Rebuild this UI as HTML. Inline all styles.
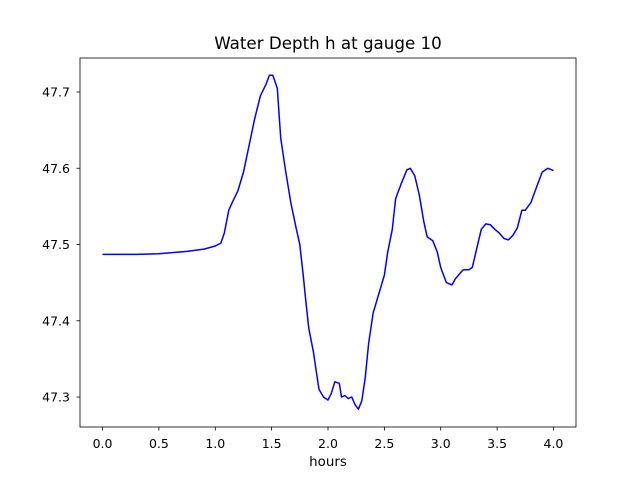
<!DOCTYPE html>
<html><head><meta charset="utf-8"><style>body{margin:0;background:#fff}svg{display:block;font-family:"DejaVu Sans","Liberation Sans",sans-serif}</style></head>
<body>
<svg id="chart" width="640" height="480">
<rect width="640" height="480" fill="#fff"/>
<text x="328" y="49" font-size="16.7" text-anchor="middle">Water Depth h at gauge 10</text>
<g id="marks"></g>
<g id="axes"></g>
<rect x="80" y="58" width="496" height="369" fill="none" stroke="#000" stroke-width="0.8"/>
<text x="328" y="466" font-size="13.4" text-anchor="middle">hours</text>
</svg>
<script>
const xs=[0,0.3,0.5,0.75,0.9,1.0,1.05,1.08,1.12,1.15,1.2,1.25,1.3,1.35,1.4,1.45,1.48,1.51,1.55,1.58,1.62,1.67,1.72,1.75,1.78,1.8,1.83,1.87,1.9,1.92,1.96,2.0,2.03,2.06,2.1,2.12,2.15,2.18,2.21,2.24,2.27,2.3,2.33,2.36,2.4,2.43,2.46,2.5,2.53,2.57,2.6,2.65,2.7,2.73,2.77,2.81,2.85,2.88,2.93,2.97,3.0,3.05,3.1,3.13,3.17,3.2,3.25,3.28,3.32,3.36,3.4,3.44,3.48,3.52,3.56,3.6,3.64,3.68,3.72,3.75,3.8,3.85,3.9,3.95,4.0];
const ys=[47.487,47.487,47.488,47.491,47.494,47.498,47.502,47.515,47.545,47.555,47.57,47.595,47.63,47.665,47.695,47.71,47.722,47.722,47.705,47.64,47.6,47.555,47.52,47.5,47.46,47.43,47.39,47.36,47.33,47.31,47.3,47.296,47.305,47.32,47.318,47.3,47.302,47.298,47.3,47.29,47.284,47.295,47.325,47.37,47.41,47.425,47.44,47.46,47.49,47.52,47.56,47.58,47.598,47.6,47.59,47.565,47.53,47.51,47.505,47.49,47.47,47.45,47.447,47.455,47.462,47.467,47.467,47.47,47.495,47.52,47.527,47.526,47.52,47.515,47.508,47.506,47.512,47.522,47.545,47.545,47.555,47.575,47.595,47.6,47.597];
const xTicks=[0,0.5,1,1.5,2,2.5,3,3.5,4];
const xTickLabels=["0.0","0.5","1.0","1.5","2.0","2.5","3.0","3.5","4.0"];
const yTicks=[47.3,47.4,47.5,47.6,47.7];
const yTickLabels=["47.3","47.4","47.5","47.6","47.7"];
const X=v=>80+(v+0.2)/4.4*496;
const Y=v=>427-(v-47.2607)/(47.7446-47.2607)*369;
const NS="http://www.w3.org/2000/svg";
const marks=document.getElementById('marks'),axes=document.getElementById('axes');
function mk(t,a,p){const e=document.createElementNS(NS,t);for(const k in a)e.setAttribute(k,a[k]);p.appendChild(e);return e;}
const line=mk('polyline',{points:xs.map((x,i)=>X(x).toFixed(1)+','+Y(ys[i]).toFixed(1)).join(' '),fill:'none',stroke:'#0000ff','stroke-width':1.5,'stroke-linejoin':'round'},marks);


xTicks.forEach((v,i)=>{
 const t=mk('line',{x1:X(v),x2:X(v),y1:427,y2:430.5,stroke:'#000','stroke-width':0.8},axes);
 
 
 const l=mk('text',{x:X(v),y:448,'font-size':12.5,'text-anchor':'middle'},axes);l.textContent=xTickLabels[i];
 
 
});
yTicks.forEach((v,i)=>{
 const t=mk('line',{x1:76.5,x2:80,y1:Y(v),y2:Y(v),stroke:'#000','stroke-width':0.8},axes);
 
 
 const l=mk('text',{x:70,y:Y(v)+4.5,'font-size':12.5,'text-anchor':'end'},axes);l.textContent=yTickLabels[i];
 
 
});
</script>
</body></html>
